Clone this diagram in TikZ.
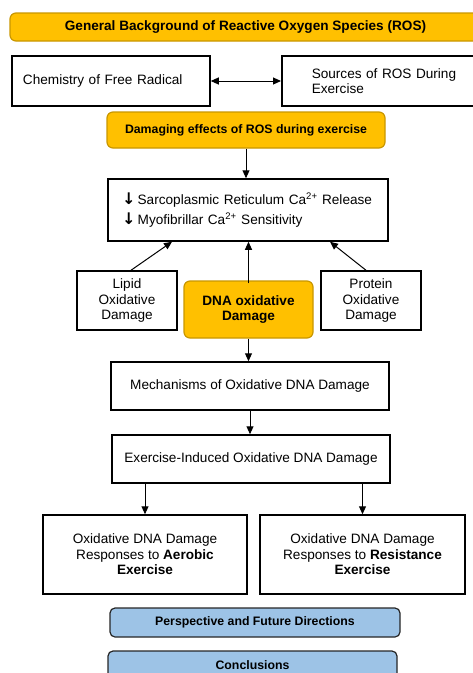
\documentclass[tikz,border=0pt]{standalone}
\usepackage{fontspec}
\setmainfont{Liberation Sans}
\newfontfamily\arrowfont{DejaVu Sans}
\usetikzlibrary{arrows.meta}
\definecolor{rosfill}{HTML}{FFC000}
\definecolor{rosedge}{HTML}{C99700}
\definecolor{endfill}{HTML}{9DC3E6}
\newcommand\dnarrow{{\arrowfont\bfseries\fontsize{16}{16}\selectfont ↓}}

\begin{document}
\begin{tikzpicture}[x=1pt,y=-1pt,
    every node/.style={font=\fontsize{13.6}{15.5}\selectfont, inner sep=0pt},
    plain/.style={draw, line width=1.5pt, align=center},
    gold/.style={draw=rosedge, fill=rosfill, line width=1.2pt, rounded corners=6pt, align=center, font=\fontsize{12.3}{15.5}\selectfont\bfseries},
    closing/.style={draw=black!85, fill=endfill, line width=1.2pt, rounded corners=5pt, align=center, font=\fontsize{12.3}{15.5}\selectfont\bfseries},
    link/.style={-{Triangle[length=8pt,width=7pt]}, line width=1pt},
    twoway/.style={{Triangle[length=8pt,width=7pt]}-{Triangle[length=8pt,width=7pt]}, line width=1pt}]
    \useasboundingbox (0,0) rectangle (472,673);

    \node[gold, minimum width=471pt, minimum height=28pt, font=\fontsize{13.6}{15.5}\selectfont\bfseries] (bg) at (245.5,27) {General Background of Reactive Oxygen Species (ROS)};
    \node[plain, align=left, text width=176pt, inner xsep=11pt, minimum height=50pt] (chem) at (111,81) {Chemistry of Free Radical};
    \node[plain, align=left, text width=170pt, inner xsep=30pt, minimum height=50pt, anchor=west] (src) at (281,81) {Sources of ROS During\\Exercise};
    \node[gold, minimum width=278pt, minimum height=36pt] (harm) at (246,130) {Damaging effects of ROS during exercise};

    \node[plain, align=left, text width=252pt, inner xsep=14pt, minimum height=62pt] (ca) at (248,210)
        {\dnarrow\,Sarcoplasmic Reticulum Ca\textsuperscript{2+} Release\\[4pt]
         \dnarrow\,Myofibrillar Ca\textsuperscript{2+} Sensitivity};

    \node[plain, minimum width=100pt, minimum height=59pt] (lipid) at (127,300.5) {Lipid\\Oxidative\\Damage};
    \node[gold, minimum width=129pt, minimum height=57pt, font=\fontsize{13.6}{15.5}\selectfont\bfseries] (dna) at (248.5,309.5) {DNA oxidative\\Damage};
    \node[plain, minimum width=100pt, minimum height=59pt] (protein) at (371,300.5) {Protein\\Oxidative\\Damage};

    \node[plain, minimum width=278pt, minimum height=48pt] (mech) at (250,386) {Mechanisms of Oxidative DNA Damage};
    \node[plain, minimum width=278pt, minimum height=48pt] (exer) at (251,459) {Exercise-Induced Oxidative DNA Damage};
    \node[plain, minimum width=204pt, minimum height=79pt] (aer) at (145,554.5) {Oxidative DNA Damage\\Responses to \textbf{Aerobic}\\\textbf{Exercise}};
    \node[plain, minimum width=205pt, minimum height=79pt] (res) at (362.5,554.5) {Oxidative DNA Damage\\Responses to \textbf{Resistance}\\\textbf{Exercise}};

    \node[closing, minimum width=290pt, minimum height=29pt] (persp) at (255,622.5) {Perspective and Future Directions};
    \node[closing, minimum width=289pt, minimum height=29pt] (concl) at (252.5,665.5) {Conclusions};

    \draw[twoway] (chem) -- (src);
    \draw[link] (harm.south) -- (harm.south |- ca.north);
    \draw[link] ([xshift=4pt]lipid.north) -- ([xshift=-76pt]ca.south);
    \draw[link] ([yshift=-3pt]dna.north) -- (dna.north |- ca.south);
    \draw[link] ([xshift=-5pt]protein.north) -- ([xshift=82pt]ca.south);
    \draw[link] (dna.south) -- (dna.south |- mech.north);
    \draw[link] (mech.south) -- (mech.south |- exer.north);
    \draw[link] (exer.south -| aer.north) -- (aer.north);
    \draw[link] (exer.south -| res.north) -- (res.north);
\end{tikzpicture}
\end{document}
